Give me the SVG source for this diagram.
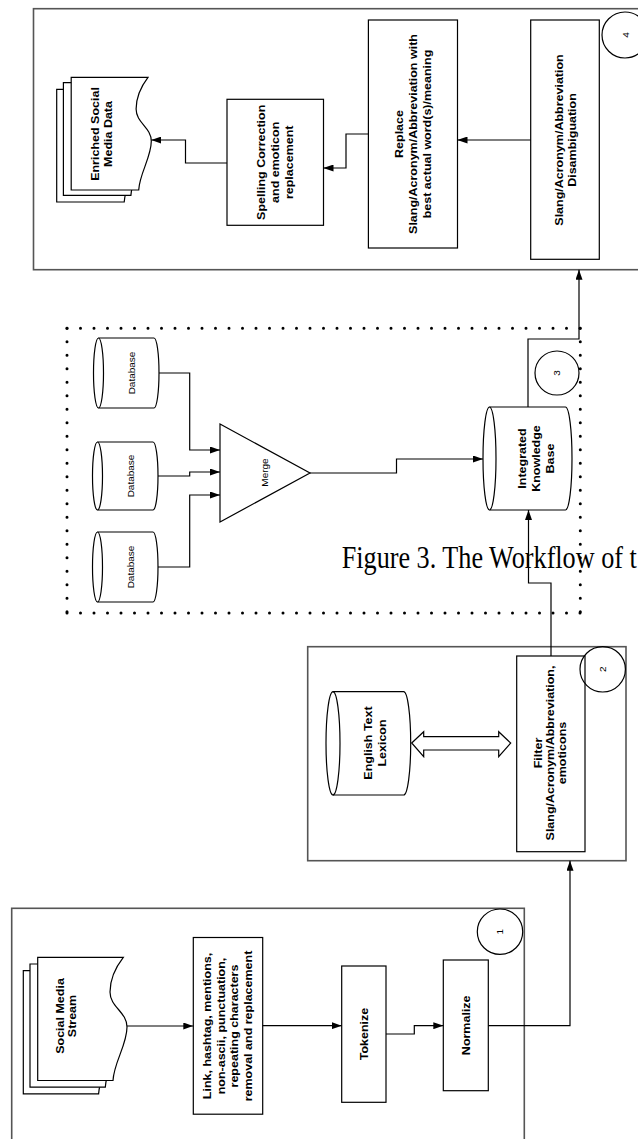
<svg xmlns="http://www.w3.org/2000/svg" width="638" height="1139" viewBox="0 0 638 1139">
<defs>
<style>
.frame{fill:none;stroke:#555;stroke-width:1.6}
.node{fill:#fff;stroke:#000;stroke-width:1.2}
.ring{fill:none;stroke:#000;stroke-width:1.2}
.dots{fill:none;stroke:#000;stroke-width:3;stroke-linecap:round;stroke-dasharray:0 13.5}
.conn{fill:none;stroke:#000;stroke-width:1.2}
.lbl{font-family:"Liberation Sans",Arial,sans-serif;font-weight:bold;font-size:12.5px;text-anchor:middle;fill:#000}
.sm{font-family:"Liberation Sans",Arial,sans-serif;font-size:10px;text-anchor:middle;fill:#000}
.cap{font-family:"Liberation Serif","Times New Roman",serif;font-size:31px;fill:#000}
</style>
<marker id="ah" viewBox="0 0 10 7" refX="10" refY="3.5" markerWidth="10" markerHeight="7" markerUnits="userSpaceOnUse" orient="auto"><path d="M0,0L10,3.5L0,7Z" fill="#000"/></marker>
<path id="docS" d="M37.7,957.3 H123.3 C115,968 110,980 110,992 C110,1007 127,1012 127,1027 C127,1045 114,1062 113,1080.5 H37.7 Z"/>
<path id="docE" d="M71.2,77.3 H148 C140.5,87.1 136.1,98.1 136.1,109.1 C136.1,122.8 151.3,127.3 151.3,141.1 C151.3,157.5 139.6,173.1 138.7,190 H71.2 Z"/>
</defs>
<rect width="638" height="1139" fill="#fff"/>

<g id="frames">
<rect id="frame1" class="frame" x="11.7" y="908.3" width="512.6" height="250"/>
<rect id="frame2" class="frame" x="307.7" y="646.7" width="318.3" height="214"/>
<g id="frame3">
<line class="dots" x1="67" y1="328.3" x2="580.3" y2="328.3"/>
<line class="dots" x1="580.3" y1="328.3" x2="580.3" y2="613"/>
<line class="dots" x1="67" y1="613" x2="580.3" y2="613"/>
<line class="dots" x1="67" y1="328.3" x2="67" y2="613"/>
</g>
<rect id="frame4" class="frame" x="33.5" y="8.7" width="620" height="261"/>
</g>

<g id="caption">
<text class="cap" transform="translate(341.7,567.7) scale(0.845,1)">Figure 3. The Workflow of t</text>
</g>

<g id="n-social">
<use href="#docS" class="node" x="-14.4" y="13.4"/>
<use href="#docS" class="node" x="-7.7" y="6.7"/>
<use href="#docS" class="node"/>
<text class="lbl" transform="translate(65.5,1016) rotate(-90) scale(1,0.92)"><tspan x="0" y="-2.1">Social Media</tspan><tspan x="0" y="11.3">Stream</tspan></text>
</g>
<g id="n-link">
<rect class="node" x="193.3" y="937.5" width="69.4" height="176.7"/>
<text class="lbl" transform="translate(227.5,1026) rotate(-90) scale(1,0.92)"><tspan x="0" y="-17.5">Link, hashtag, mentions,</tspan><tspan x="0" y="-2.8">non-ascii, punctuation,</tspan><tspan x="0" y="11.9">repeating characters</tspan><tspan x="0" y="26.6">removal and replacement</tspan></text>
</g>
<g id="n-tokenize">
<rect class="node" x="341.7" y="966" width="44.3" height="136.3"/>
<text class="lbl" transform="translate(363.8,1034) rotate(-90) scale(1,0.92)"><tspan x="0" y="4.5">Tokenize</tspan></text>
</g>
<g id="n-normalize">
<rect class="node" x="443.3" y="960" width="45" height="130.7"/>
<text class="lbl" transform="translate(465.8,1025.3) rotate(-90) scale(1,0.92)"><tspan x="0" y="4.5">Normalize</tspan></text>
</g>
<g id="n-c1">
<circle class="ring" cx="500" cy="931.7" r="22.7"/>
<text class="sm" transform="translate(500,931.7) rotate(-90) scale(1,0.92)"><tspan x="0" y="3.6">1</tspan></text>
</g>

<g id="n-lexicon">
<path class="node" d="M333,691.7 H403.7 A7,51.65 0 0 1 403.7,795 H333 A7,51.65 0 0 1 333,691.7 Z"/>
<path class="conn" d="M333,691.7 A7,51.65 0 0 1 333,795"/>
<text class="lbl" transform="translate(375,743) rotate(-90) scale(1,0.92)"><tspan x="0" y="-2.9">English Text</tspan><tspan x="0" y="11.9">Lexicon</tspan></text>
</g>
<g id="n-filter">
<rect class="node" x="516.7" y="656" width="68.3" height="195.7"/>
<text class="lbl" transform="translate(549.9,753) rotate(-90) scale(1,0.92)"><tspan x="0" y="-8.2">Filter</tspan><tspan x="0" y="4.5">Slang/Acronym/Abbreviation,</tspan><tspan x="0" y="17.2">emoticons</tspan></text>
</g>
<g id="n-c2">
<circle class="ring" cx="602.7" cy="669.3" r="22.7"/>
<text class="sm" transform="translate(602.7,669.3) rotate(-90) scale(1,0.92)"><tspan x="0" y="3.6">2</tspan></text>
</g>

<g id="n-db1">
<path class="node" d="M98.5,338 H154 A5,35 0 0 1 154,408 H98.5 A5,35 0 0 1 98.5,338 Z"/>
<path class="conn" d="M98.5,338 A5,35 0 0 1 98.5,408"/>
<text class="sm" transform="translate(131.5,373) rotate(-90) scale(1,0.92)"><tspan x="0" y="3.6">Database</tspan></text>
</g>
<g id="n-db2">
<path class="node" d="M97.5,442 H153 A5,34 0 0 1 153,510 H97.5 A5,34 0 0 1 97.5,442 Z"/>
<path class="conn" d="M97.5,442 A5,34 0 0 1 97.5,510"/>
<text class="sm" transform="translate(131,476) rotate(-90) scale(1,0.92)"><tspan x="0" y="3.6">Database</tspan></text>
</g>
<g id="n-db3">
<path class="node" d="M97.5,532 H153 A5,35 0 0 1 153,602 H97.5 A5,35 0 0 1 97.5,532 Z"/>
<path class="conn" d="M97.5,532 A5,35 0 0 1 97.5,602"/>
<text class="sm" transform="translate(131,567) rotate(-90) scale(1,0.92)"><tspan x="0" y="3.6">Database</tspan></text>
</g>
<g id="n-merge">
<polygon class="node" points="220,424 220,522 310,473"/>
<text class="sm" transform="translate(265,472.5) rotate(-90) scale(1,0.92)"><tspan x="0" y="3.6">Merge</tspan></text>
</g>
<g id="n-ikb">
<path class="node" d="M489.5,407 H565.5 A6.5,51.5 0 0 1 565.5,510 H489.5 A6.5,51.5 0 0 1 489.5,407 Z"/>
<path class="conn" d="M489.5,407 A6.5,51.5 0 0 1 489.5,510"/>
<text class="lbl" transform="translate(535.5,458.5) rotate(-90) scale(1,0.92)"><tspan x="0" y="-10.7">Integrated</tspan><tspan x="0" y="4.5">Knowledge</tspan><tspan x="0" y="19.7">Base</tspan></text>
</g>
<g id="n-c3">
<circle class="ring" cx="557" cy="373" r="22"/>
<text class="sm" transform="translate(557,373) rotate(-90) scale(1,0.92)"><tspan x="0" y="3.6">3</tspan></text>
</g>

<g id="n-enriched">
<use href="#docE" class="node" x="-14.5" y="12"/>
<use href="#docE" class="node" x="-7.8" y="5.4"/>
<use href="#docE" class="node"/>
<text class="lbl" transform="translate(101,134) rotate(-90) scale(1,0.92)"><tspan x="0" y="-2.6">Enriched Social</tspan><tspan x="0" y="11.6">Media Data</tspan></text>
</g>
<g id="n-spelling">
<rect class="node" x="227" y="99.3" width="96.5" height="126"/>
<text class="lbl" transform="translate(275,162.3) rotate(-90) scale(1,0.92)"><tspan x="0" y="-10.7">Spelling Correction</tspan><tspan x="0" y="4.5">and emoticon</tspan><tspan x="0" y="19.7">replacement</tspan></text>
</g>
<g id="n-replace">
<rect class="node" x="368.4" y="20" width="89.1" height="228"/>
<text class="lbl" transform="translate(413,134) rotate(-90) scale(1,0.92)"><tspan x="0" y="-10.7">Replace</tspan><tspan x="0" y="4.5">Slang/Acronym/Abbreviation with</tspan><tspan x="0" y="19.7">best actual word(s)/meaning</tspan></text>
</g>
<g id="n-disamb">
<rect class="node" x="530.7" y="20" width="68.6" height="239.3"/>
<text class="lbl" transform="translate(565,140) rotate(-90) scale(1,0.92)"><tspan x="0" y="-2.6">Slang/Acronym/Abbreviation</tspan><tspan x="0" y="11.6">Disambiguation</tspan></text>
</g>
<g id="n-c4">
<circle class="ring" cx="625" cy="35" r="23"/>
<text class="sm" transform="translate(626,35) rotate(-90) scale(1,0.92)"><tspan x="0" y="3.6">4</tspan></text>
</g>

<g id="connectors">
<path class="conn" marker-end="url(#ah)" d="M127,1026 H193.3"/>
<path class="conn" marker-end="url(#ah)" d="M262.7,1025.7 H341.7"/>
<path class="conn" marker-end="url(#ah)" d="M386,1034 H414.3 V1025.7 H443.3"/>
<path class="conn" marker-end="url(#ah)" d="M488.3,1025.7 H570 V860.7"/>
<path class="conn" marker-end="url(#ah)" d="M551,656 V583 H528.5 V510"/>
<path class="conn" marker-end="url(#ah)" d="M159,373 H189.7 V450 H220"/>
<path class="conn" marker-end="url(#ah)" d="M158,476 H189.7 V472 H220"/>
<path class="conn" marker-end="url(#ah)" d="M158,567 H189.7 V495 H220"/>
<path class="conn" marker-end="url(#ah)" d="M310,473 H396.5 V459 H483"/>
<path class="conn" marker-end="url(#ah)" d="M528,407 V339 H579 V269.7"/>
<path class="conn" marker-end="url(#ah)" d="M530.7,140 H457.5"/>
<path class="conn" marker-end="url(#ah)" d="M368.4,134 H346 V168 H323.5"/>
<path class="conn" marker-end="url(#ah)" d="M227,163 H185.5 V140 H151.3"/>
<polygon class="node" points="411.7,743 423.7,731.7 423.7,736.7 498.7,736.7 498.7,731.7 510.7,743 498.7,756.7 498.7,750 423.7,750 423.7,756.7"/>
</g>
</svg>
